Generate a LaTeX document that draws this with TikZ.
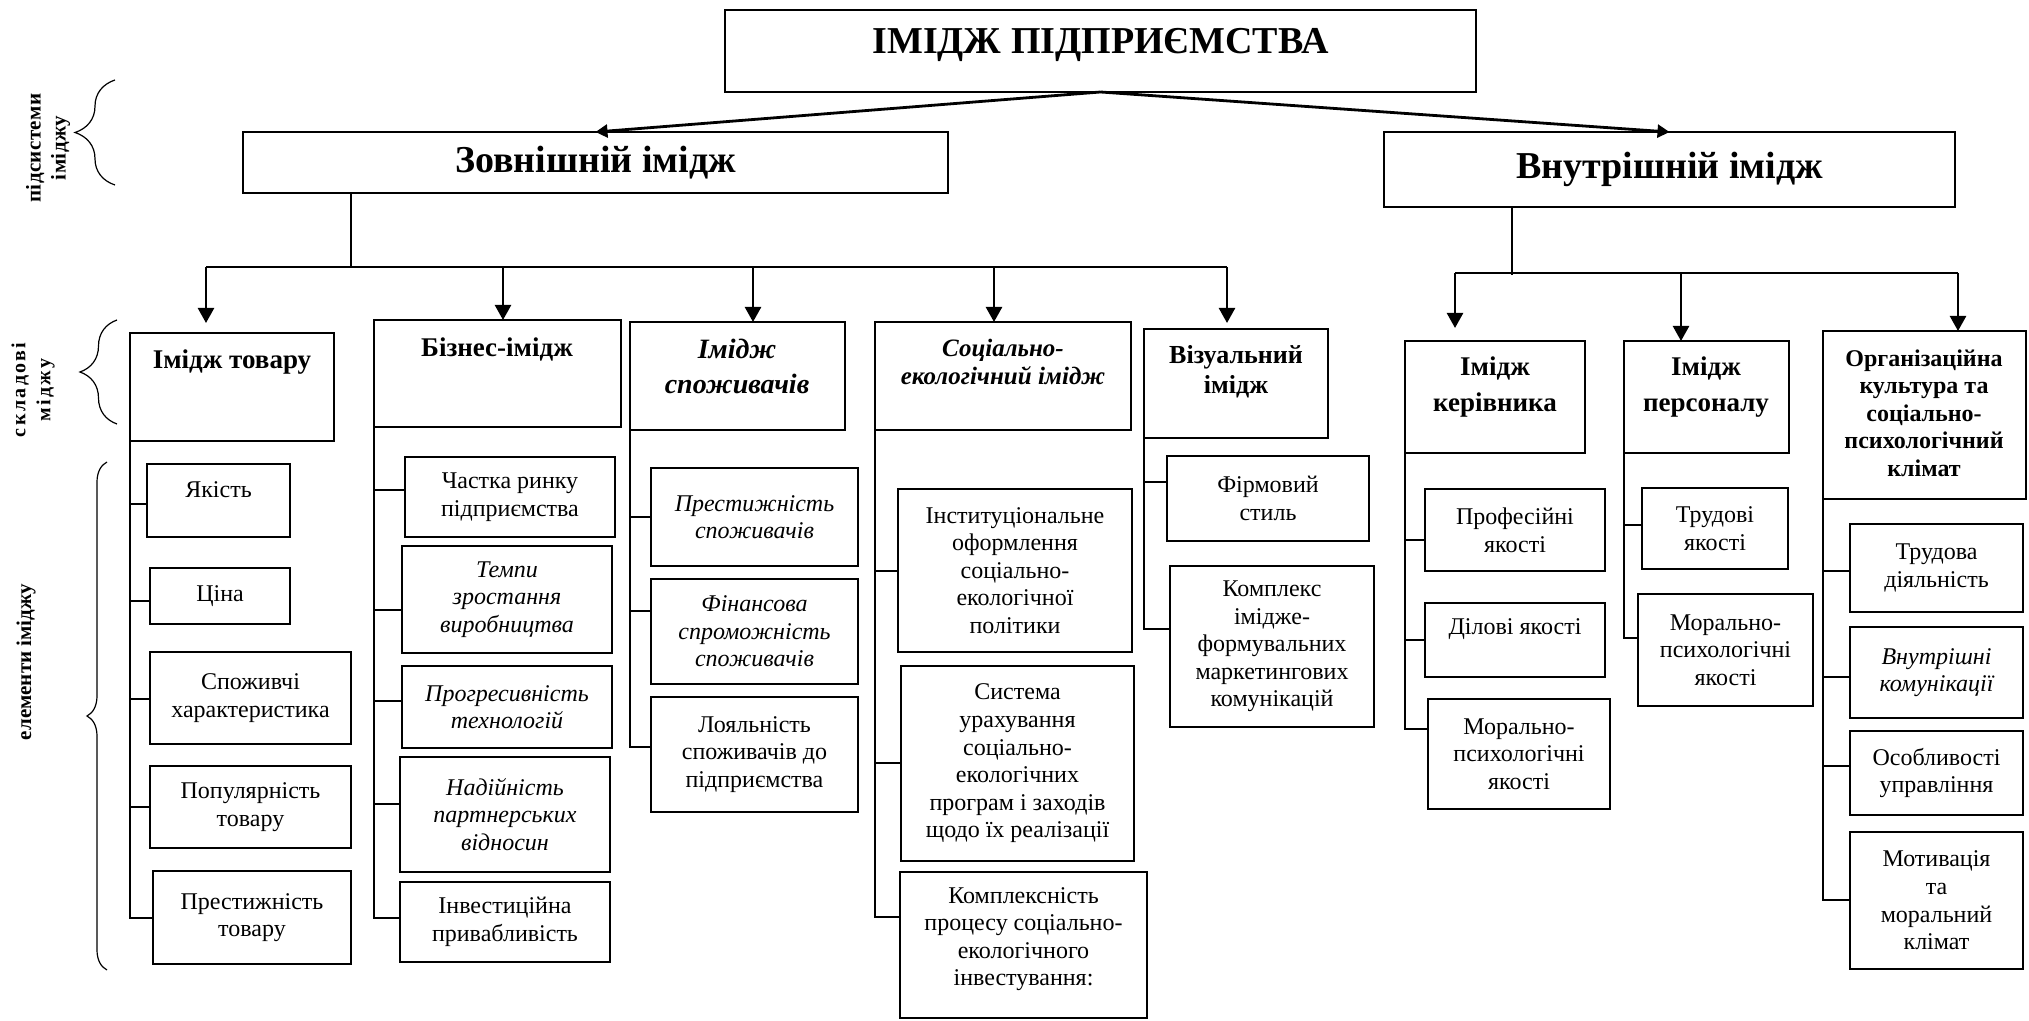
\documentclass[tikz,border=0pt]{standalone}
\usepackage{fontspec}
\setmainfont{Liberation Serif}
\newfontfamily\spacedserif[LetterSpace=2]{Liberation Serif}
\newfontfamily\widespacedserif[LetterSpace=12]{Liberation Serif}
\usetikzlibrary{arrows.meta,decorations.pathreplacing}

% box given by its corners (in pixel units): style, name, x1, y1, x2, y2, text
\newcommand\cbox[7]{\node[#1, minimum width={(#5-#3)*0.5pt}, minimum height={(#6-#4)*0.5pt}] (#2) at ({(#3+#5)/2},{(#4+#6)/2}) {#7};}

\begin{document}
\begin{tikzpicture}[x=0.5pt,y=-0.5pt,
  box/.style={draw, line width=1.3pt, inner sep=0pt, outer sep=0pt},
  elem/.style={box, align=center, font=\fontsize{12}{13.8}\selectfont},
  eit/.style={box, align=center, font=\fontsize{12}{13.8}\selectfont\itshape},
  head/.style={align=center, inner sep=0pt, font=\fontsize{13.5}{17}\selectfont\bfseries},
  title/.style={box, font=\fontsize{19}{22}\selectfont\bfseries},
  conn/.style={line width=0.6pt},
  darr/.style={line width=1.2pt, -{Triangle[length=7.5pt,width=8pt]}},
  tarr/.style={line width=1.4pt, -{Triangle[length=6pt,width=6.5pt]}},
  brc/.style={decorate, decoration={brace, amplitude=#1}, line width=0.6pt},
  side/.style={rotate=90, align=center, inner sep=0pt},
]
\fill[white] (0,0) rectangle (2029,1021);
\useasboundingbox (0,0) rectangle (2029,1021);

% ---------- top levels ----------
\cbox{title, text depth=10pt}{top}{725}{10}{1476}{92}{ІМІДЖ ПІДПРИЄМСТВА}
\cbox{title}{ext}{243}{132}{948}{193}{Зовнішній імідж}
\cbox{title}{int}{1384}{132}{1955}{207}{Внутрішній імідж}
\draw[tarr] (top.south) -- (ext.north);
\draw[tarr] (top.south) -- (int.north);

% ---------- side labels and braces ----------
\node[side, font=\fontsize{10.5}{12.5}\selectfont\spacedserif\bfseries] (lsub) at (48,148) {підсистеми\\іміджу};
\node[side, font=\fontsize{10}{12.5}\selectfont\widespacedserif\bfseries] (lcomp) at (33,390) {складові\\міджу};
\node[side, font=\fontsize{10.5}{12}\selectfont\bfseries] (lelem) at (26,662) {елементи іміджу};
\draw[brc=20pt] (115,185) -- (115,80);
\draw[brc=18.5pt] (117,424) -- (117,320);
\draw[brc=10pt] (107,970) -- (107,462);

% ---------- external image components ----------
\cbox{box}{it}{130}{333}{334}{441}{}
\node[head] (itT) at (232,362) {Імідж товару};
\cbox{box}{bi}{374}{320}{621}{427}{}
\node[head] (biT) at (497,349) {Бізнес-імідж};
\cbox{box}{is}{630}{322}{845}{430}{}
\node[head, font=\fontsize{14}{17.5}\selectfont\bfseries\itshape] (isT) at (737,366) {Імідж\\споживачів};
\cbox{box}{se}{875}{322}{1131}{430}{}
\node[head, font=\fontsize{12.5}{14}\selectfont\bfseries\itshape] (seT) at (1003,362) {Соціально-\\екологічний імідж};
\cbox{box}{vi}{1144}{329}{1328}{438}{}
\node[head, font=\fontsize{13}{15}\selectfont\bfseries] (viT) at (1236,372) {Візуальний\\імідж};

% ---------- internal image components ----------
\cbox{box}{ik}{1405}{341}{1585}{453}{}
\node[head, font=\fontsize{13.5}{18}\selectfont\bfseries] (ikT) at (1495,387) {Імідж\\керівника};
\cbox{box}{ip}{1624}{341}{1789}{453}{}
\node[head, font=\fontsize{13.5}{18}\selectfont\bfseries] (ipT) at (1706,387) {Імідж\\персоналу};
\cbox{box}{oc}{1823}{331}{2026}{499}{}
\node[head, font=\fontsize{12}{13.8}\selectfont\bfseries] (ocT) at (1924,413) {Організаційна\\культура та\\соціально-\\психологічний\\клімат};

% ---------- buses and arrows ----------
\coordinate (eb) at (351,267);
\coordinate (b1) at (206,267);
\coordinate (b2) at (503,267);
\coordinate (b3) at (753,267);
\coordinate (b4) at (994,267);
\coordinate (b5) at (1227,267);
\draw[conn] (ext.south -| eb) -- (eb);
\draw[conn] (b1) -- (b5);
\draw[darr, shorten >=5pt] (b1) -- (b1 |- it.north);
\draw[darr] (b2) -- (b2 |- bi.north);
\draw[darr] (b3) -- (b3 |- is.north);
\draw[darr] (b4) -- (b4 |- se.north);
\draw[darr, shorten >=3pt] (b5) -- (b5 |- vi.north);

\coordinate (ib) at (1512,275);
\coordinate (c1) at (1455,273);
\coordinate (c2) at (1681,273);
\coordinate (c3) at (1958,273);
\draw[conn] (int.south -| ib) -- (ib);
\draw[conn] (c1) -- (c3);
\draw[darr, shorten >=6.5pt] (c1) -- (c1 |- ik.north);
\draw[darr] (c2) -- (c2 |- ip.north);
\draw[darr] (c3) -- (c3 |- oc.north);

% ---------- elements: product image ----------
\cbox{elem, text depth=11pt}{e11}{147}{464}{290}{537}{Якість}
\cbox{elem}{e12}{150}{568}{290}{624}{Ціна}
\cbox{elem}{e13}{150}{652}{351}{744}{Споживчі\\характеристика}
\cbox{elem}{e14}{150}{766}{351}{848}{Популярність\\товару}
\cbox{elem}{e15}{153}{871}{351}{964}{Престижність\\товару}
\draw[conn] (it.south west) |- (e11.west |- 0,504);
\draw[conn] (it.south west) |- (e12.west |- 0,601);
\draw[conn] (it.south west) |- (e13.west |- 0,699);
\draw[conn] (it.south west) |- (e14.west |- 0,807);
\draw[conn] (it.south west) |- (e15.west |- 0,918);

% ---------- elements: business image ----------
\cbox{elem}{e21}{405}{457}{615}{537}{Частка ринку\\підприємства}
\cbox{eit}{e22}{402}{546}{612}{653}{Темпи\\зростання\\виробництва}
\cbox{eit}{e23}{402}{666}{612}{748}{Прогресивність\\технологій}
\cbox{eit}{e24}{400}{757}{610}{872}{Надійність\\партнерських\\відносин}
\cbox{elem}{e25}{400}{882}{610}{962}{Інвестиційна\\привабливість}
\draw[conn] (bi.south west) |- (e21.west |- 0,490);
\draw[conn] (bi.south west) |- (e22.west |- 0,610);
\draw[conn] (bi.south west) |- (e23.west |- 0,701);
\draw[conn] (bi.south west) |- (e24.west |- 0,804);
\draw[conn] (bi.south west) |- (e25.west |- 0,918);

% ---------- elements: consumer image ----------
\cbox{eit}{e31}{651}{468}{858}{566}{Престижність\\споживачів}
\cbox{eit}{e32}{651}{579}{858}{684}{Фінансова\\спроможність\\споживачів}
\cbox{elem}{e33}{651}{697}{858}{812}{Лояльність\\споживачів до\\підприємства}
\draw[conn] (is.south west) |- (e31.west |- 0,517);
\draw[conn] (is.south west) |- (e32.west |- 0,611);
\draw[conn] (is.south west) |- (e33.west |- 0,747);

% ---------- elements: socio-ecological image ----------
\cbox{elem}{e41}{898}{489}{1132}{652}{Інституціональне\\оформлення\\соціально-\\екологічної\\політики}
\cbox{elem}{e42}{901}{666}{1134}{861}{Система\\урахування\\соціально-\\екологічних\\програм і заходів\\щодо їх реалізації}
\cbox{elem, text depth=8.5pt}{e43}{900}{872}{1147}{1018}{Комплексність\\процесу соціально-\\екологічного\\інвестування:}
\draw[conn] (se.south west) |- (e41.west |- 0,571);
\draw[conn] (se.south west) |- (e42.west |- 0,763);
\draw[conn] (se.south west) |- (e43.west |- 0,917);

% ---------- elements: visual image ----------
\cbox{elem}{e51}{1167}{456}{1369}{541}{Фірмовий\\стиль}
\cbox{elem}{e52}{1170}{566}{1374}{727}{Комплекс\\іміджe-\\формувальних\\маркетингових\\комунікацій}
\draw[conn] (vi.south west) |- (e51.west |- 0,482);
\draw[conn] (vi.south west) |- (e52.west |- 0,629);

% ---------- elements: manager image ----------
\cbox{elem}{e61}{1425}{489}{1605}{571}{Професійні\\якості}
\cbox{elem, text depth=13.5pt}{e62}{1425}{603}{1605}{677}{Ділові якості}
\cbox{elem}{e63}{1428}{699}{1610}{809}{Морально-\\психологічні\\якості}
\draw[conn] (ik.south west) |- (e61.west |- 0,540);
\draw[conn] (ik.south west) |- (e62.west |- 0,640);
\draw[conn] (ik.south west) |- (e63.west |- 0,729);

% ---------- elements: staff image ----------
\cbox{elem}{e71}{1642}{488}{1788}{569}{Трудові\\якості}
\cbox{elem}{e72}{1638}{594}{1813}{706}{Морально-\\психологічні\\якості}
\draw[conn] (ip.south west) |- (e71.west |- 0,525);
\draw[conn] (ip.south west) |- (e72.west |- 0,638);

% ---------- elements: organisational culture ----------
\cbox{elem}{e81}{1850}{524}{2023}{612}{Трудова\\діяльність}
\cbox{eit}{e82}{1850}{627}{2023}{718}{Внутрішні\\комунікації}
\cbox{elem}{e83}{1850}{731}{2023}{815}{Особливості\\управління}
\cbox{elem}{e84}{1850}{832}{2023}{969}{Мотивація\\та\\моральний\\клімат}
\draw[conn] (oc.south west) |- (e81.west |- 0,571);
\draw[conn] (oc.south west) |- (e82.west |- 0,677);
\draw[conn] (oc.south west) |- (e83.west |- 0,766);
\draw[conn] (oc.south west) |- (e84.west |- 0,900);
\end{tikzpicture}
\end{document}
